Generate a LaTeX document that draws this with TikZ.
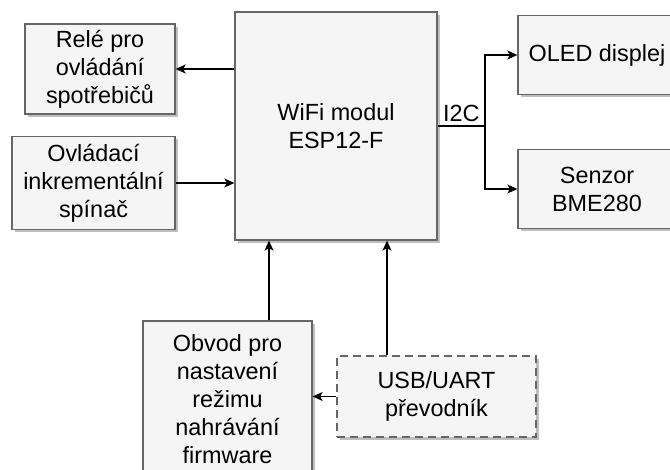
\documentclass[tikz,border=0pt]{standalone}
\usepackage{fontspec}
\setmainfont{Liberation Sans}
\usetikzlibrary{arrows.meta,shadows}
\definecolor{bd}{HTML}{666666}
\definecolor{bf}{HTML}{F5F5F5}
\begin{document}
\begin{tikzpicture}[x=1pt,y=-1pt,
  txt/.style={font=\fontsize{23.4}{28}\selectfont},
  blk/.style={txt,draw=bd,fill=bf,line width=1.3pt,rectangle,inner sep=0pt,align=center,
    drop shadow={shadow xshift=3pt,shadow yshift=-3pt,fill=black,opacity=0.25}},
  dblk/.style={blk,dash pattern=on 8pt off 5pt,line width=1.6pt},
  conn/.style={line width=1.3pt},
  arr/.style={conn,-{Stealth[length=10pt,width=9pt,inset=2.5pt]}}]
\useasboundingbox (0,0) rectangle (670,470);
\node[blk,minimum width=150pt,minimum height=90pt] (rele) at (100,69) {Relé pro\\ovládání\\spotřebičů};
\node[blk,minimum width=163pt,minimum height=93pt] (ovl) at (93.5,183) {Ovládací\\inkrementální\\spínač};
\node[blk,minimum width=202pt,minimum height=228pt] (wifi) at (336,126) {WiFi modul\\ESP12-F};
\node[blk,minimum width=158pt,minimum height=79pt] (oled) at (597,55) {OLED displej};
\node[blk,minimum width=158pt,minimum height=79pt] (sen) at (597,189) {Senzor\\BME280};
\node[blk,minimum width=169pt,minimum height=156pt] (obv) at (227.5,399) {Obvod pro\\nastavení\\režimu\\nahrávání\\firmware};
\node[dblk,minimum width=199pt,minimum height=81pt] (usb) at (436.5,396.5) {USB/UART\\převodník};
\coordinate (br) at (485,126);
\coordinate (a1) at (269,0);
\coordinate (a2) at (387,0);
\draw[arr] (rele.east -| wifi.west) -- (rele.east);
\draw[arr] (ovl.east) -- (ovl.east -| wifi.west);
\draw[conn] (wifi.east) -- (br);
\draw[arr] (br) |- (oled.west);
\draw[arr] (br) |- (sen.west);
\node[txt,anchor=base west,inner sep=0pt] (i2c) at (443,122) {I2C};
\draw[arr] (obv.north -| a1) -- (wifi.south -| a1);
\draw[arr] (usb.north -| a2) -- (wifi.south -| a2);
\draw[arr] (usb.west) -- (usb.west -| obv.east);
\end{tikzpicture}
\end{document}
